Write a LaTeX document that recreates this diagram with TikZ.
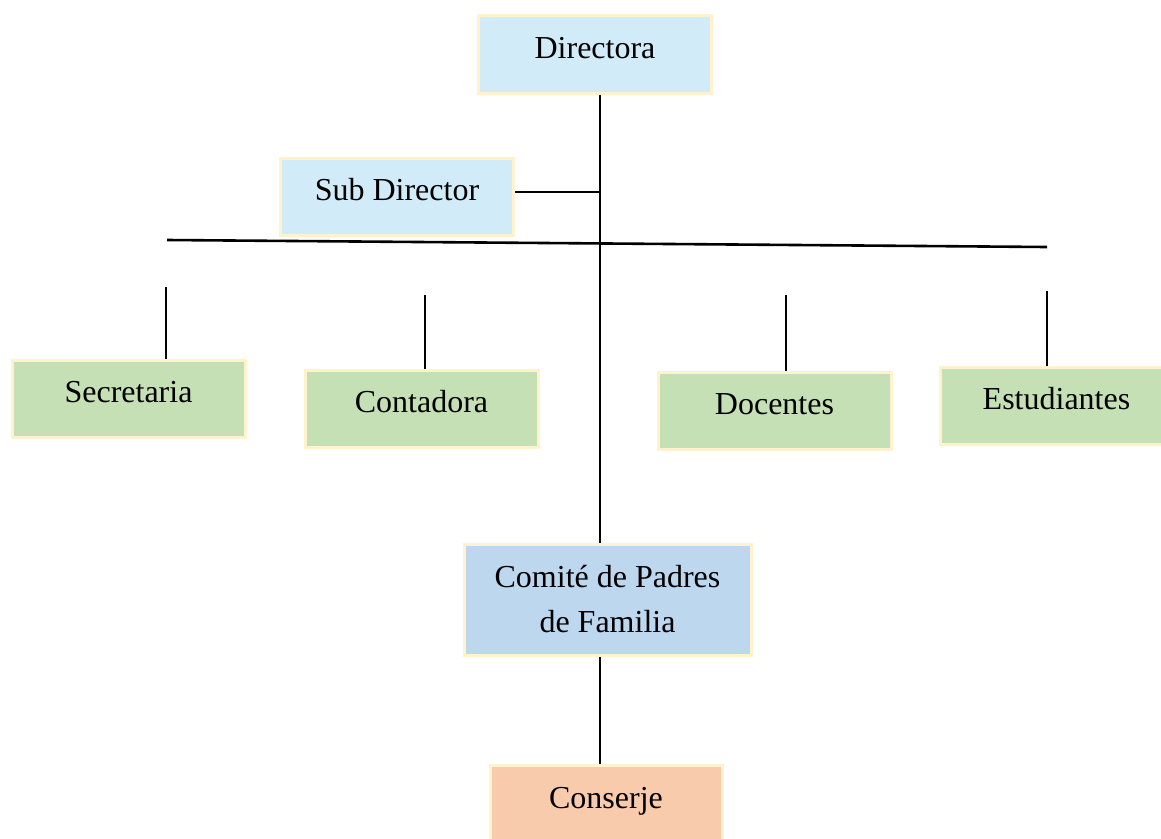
\documentclass[tikz,border=0pt]{standalone}
\usepackage{fontspec}
\setmainfont{Liberation Serif}
\definecolor{bord}{HTML}{FFF2CC}
\definecolor{lblue}{HTML}{D2EBF9}
\definecolor{lgreen}{HTML}{C5E0B4}
\definecolor{mblue}{HTML}{BDD7EE}
\definecolor{peach}{HTML}{F8CBAD}
\begin{document}
\begin{tikzpicture}[x=1pt,y=-1pt,
  box/.style={draw=bord,line width=3pt,minimum width=233pt,minimum height=77pt,
    inner sep=0pt,font=\fontsize{32}{38}\selectfont,text height=22pt,text depth=14pt},
  conn/.style={line width=2.6pt,black}]
\useasboundingbox (0,0) rectangle (1161,838);
\node[box,fill=lblue,minimum height=78pt] (dir) at (595,54) {Directora};
\node[box,fill=lblue] (sub) at (397,196.5) {Sub Director};
\node[box,fill=lgreen] (sec) at (128.5,398.5) {Secretaria};
\node[box,fill=lgreen] (con) at (421.5,408.5) {Contadora};
\node[box,fill=lgreen] (doc) at (774.5,410.5) {Docentes};
\node[box,fill=lgreen] (est) at (1056.5,405.5) {Estudiantes};
\node[box,fill=mblue,minimum width=287pt,minimum height=111pt,align=center,
  text height=,text depth=,font=\fontsize{32}{45}\selectfont] (com) at (607.5,599.5) {Comité de Padres\\de Familia};
\node[box,fill=peach,minimum width=232pt,minimum height=78pt] (cons) at (606,804) {Conserje};
\coordinate (sp) at (600,0);
\coordinate (hl) at (167,240);
\coordinate (hr) at (1047,247);
\coordinate (s1) at (166,287);
\coordinate (s2) at (425,295);
\coordinate (s3) at (786,295);
\coordinate (s4) at (1047,291);
\draw[conn] (sp |- dir.south) -- (sp |- com.north);
\draw[conn] ([yshift=4.5pt]sub.east) -- ([yshift=4.5pt]sub.east -| sp);
\draw[conn] (hl) -- (hr);
\draw[conn] (s1) -- (s1 |- sec.north);
\draw[conn] (s2) -- (s2 |- con.north);
\draw[conn] (s3) -- (s3 |- doc.north);
\draw[conn] (s4) -- (s4 |- est.north);
\draw[conn] (sp |- com.south) -- (sp |- cons.north);
\end{tikzpicture}
\end{document}
